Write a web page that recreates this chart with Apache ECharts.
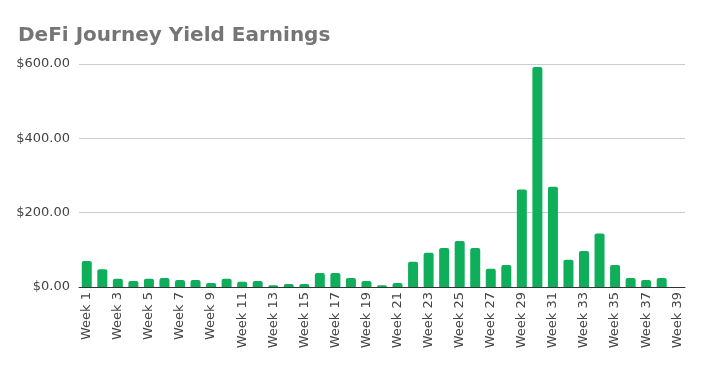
<!DOCTYPE html>
<html><head><meta charset="utf-8">
<script src="https://cdn.jsdelivr.net/npm/echarts@6/dist/echarts.min.js"></script>
<style>html,body{margin:0;padding:0;background:#fff}#c{width:706px;height:367px}</style>
</head><body><div id="c"></div>
<script>
const categories = [];
for (let i = 1; i <= 39; i++) categories.push('Week ' + i);
const earnings = [70, 48, 22, 16, 22, 24, 19, 19, 11, 22, 14, 16, 5, 8, 8, 38, 38, 24, 16, 5,
  11, 68, 92, 105, 124, 105, 49, 59, 262, 592, 270, 73, 97, 144, 59, 24, 19, 24, null];
const yTicks = [0, 200, 400, 600];

const chart = echarts.init(document.getElementById('c'));
chart.setOption({
  animation: false,
  title: {
    text: 'DeFi Journey Yield Earnings', left: 13, top: 21,
    textStyle: { fontFamily: 'DejaVu Sans', fontWeight: 'bold', fontSize: 20, color: '#757575' }
  },
  grid: { left: 79, right: 21, top: 64, bottom: 80, containLabel: false },
  xAxis: {
    type: 'category', data: categories,
    axisLine: { lineStyle: { color: '#333', width: 1 } },
    axisTick: { show: false },
    axisLabel: { rotate: 90, interval: 1, color: '#444', fontFamily: 'DejaVu Sans', fontSize: 13, margin: 5 }
  },
  yAxis: {
    type: 'value', min: yTicks[0], max: yTicks[yTicks.length - 1], interval: 200,
    axisLine: { show: false }, axisTick: { show: false },
    splitLine: { lineStyle: { color: '#cccccc' } },
    axisLabel: { color: '#444', fontFamily: 'DejaVu Sans', fontSize: 13, margin: 9,
      formatter: v => '$' + v.toFixed(2) }
  },
  series: [{
    type: 'bar', data: earnings, barWidth: 10,
    itemStyle: { color: '#0fae5a', borderRadius: [2, 2, 0, 0] }
  }]
});
</script></body></html>
